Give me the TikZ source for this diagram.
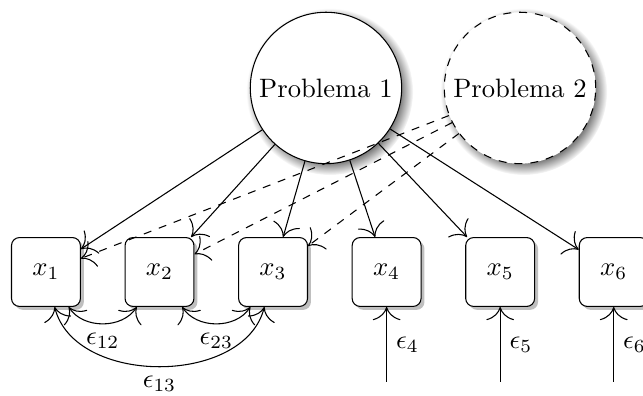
\documentclass[tikz,border=0pt]{standalone}
\usetikzlibrary{shadows,arrows.meta}
\begin{document}
\begin{tikzpicture}[
  >={To[scale=2]},
  latent/.style={circle, draw, fill=white, minimum size=2cm, inner sep=0pt, circular drop shadow},
  obs/.style={rectangle, draw, rounded corners=3pt, fill=white, minimum size=0.91cm,
    drop shadow={shadow xshift=0.3ex, shadow yshift=-0.3ex}},
  load/.style={->},
  cross/.style={->, dashed},
  cov/.style={<->}
]
\useasboundingbox (0,0) rectangle (8.494,5.231);
\node[latent] (p1) at (4.306,4.069) {Problema 1};
\node[latent, dashed] (p2) at (6.869,4.069) {Problema 2};
\foreach \i in {1,...,6} \node[obs] (x\i) at ({0.607+1.5*(\i-1)},1.638) {$x_\i$};
\foreach \i in {1,...,6} \draw[load] (p1) -- (x\i);
\foreach \i in {1,2,3} \draw[cross] (p2) -- (x\i);
\draw[cov] (x1) to[out=-57,in=-123] node[below]{$\epsilon_{12}$} (x2);
\draw[cov] (x2) to[out=-57,in=-123] node[below]{$\epsilon_{23}$} (x3);
\draw[cov] (x1) to[out=-76,in=-104] node[below]{$\epsilon_{13}$} (x3);
\foreach \i in {4,5,6} {
  \coordinate (e\i) at ({0.607+1.5*(\i-1)},0.185);
  \draw[->] (e\i) -- node[right]{$\epsilon_\i$} (x\i);
}
\end{tikzpicture}
\end{document}
